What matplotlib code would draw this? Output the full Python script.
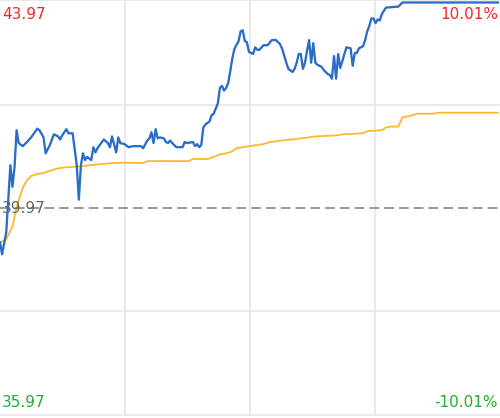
import matplotlib
matplotlib.use("Agg")
import matplotlib.pyplot as plt

plt.rcParams['font.family'] = ['DejaVu Sans']

# intraday price (minute index, price)
price_min = [0, 1, 3, 5, 6, 7, 8, 9, 11, 13, 15, 18, 19, 21, 22, 24, 26, 28, 29, 30,
             32, 33, 35, 37, 38, 39, 40, 41, 42, 44, 45, 46, 47, 50, 52, 53, 54, 56, 57, 58,
             60, 62, 64, 68, 69, 71, 72, 73, 74, 75, 76, 77, 79, 80, 81, 82, 83, 85, 88, 89,
             90, 93, 94, 95, 96, 97, 98, 99, 101, 102, 103, 105, 106, 107, 108, 109, 110, 111, 112, 113,
             115, 116, 117, 118, 119, 120, 121, 122, 123, 124, 125, 127, 129, 131, 133, 135, 136, 138, 139, 141,
             142, 143, 144, 145, 146, 147, 148, 149, 150, 151, 152, 153, 155, 156, 158, 159, 160, 161, 162, 163,
             164, 165, 166, 167, 169, 170, 171, 172, 173, 175, 176, 177, 178, 179, 180, 181, 182, 183, 184, 186,
             192, 194, 240]
price = [39.31, 39.08, 39.50, 40.81, 40.39, 40.77, 41.49, 41.24, 41.18, 41.26, 41.35, 41.52, 41.49, 41.35, 41.04, 41.20, 41.41, 41.37, 41.31, 41.39,
         41.51, 41.43, 41.43, 40.81, 40.14, 40.81, 41.04, 40.91, 40.97, 40.91, 41.16, 41.06, 41.14, 41.31, 41.24, 41.16, 41.37, 41.06, 41.35, 41.24,
         41.22, 41.16, 41.18, 41.18, 41.14, 41.29, 41.33, 41.45, 41.24, 41.51, 41.33, 41.35, 41.33, 41.26, 41.24, 41.29, 41.24, 41.16, 41.16, 41.26,
         41.24, 41.26, 41.18, 41.22, 41.16, 41.20, 41.54, 41.60, 41.66, 41.78, 41.81, 42.01, 42.31, 42.35, 42.26, 42.31, 42.41, 42.64, 42.89, 43.07,
         43.22, 43.41, 43.43, 43.22, 43.20, 43.01, 42.99, 42.97, 43.10, 43.05, 43.05, 43.14, 43.14, 43.24, 43.24, 43.16, 43.07, 42.80, 42.68, 42.62,
         42.68, 42.80, 42.97, 42.97, 42.68, 42.80, 43.03, 43.24, 42.80, 43.18, 42.80, 42.76, 42.72, 42.66, 42.58, 42.56, 42.49, 42.93, 42.49, 42.97,
         42.70, 42.83, 42.97, 43.10, 43.08, 42.74, 42.99, 42.99, 43.08, 43.12, 43.24, 43.41, 43.51, 43.66, 43.66, 43.57, 43.64, 43.62, 43.74, 43.87,
         43.89, 43.97, 43.97]

# average price line
avg_min = [0, 3, 6, 8, 11, 13, 15, 18, 21, 24, 28, 32, 39, 43, 48, 54, 60, 69, 71, 91,
           93, 100, 103, 106, 109, 112, 114, 117, 120, 127, 130, 136, 145, 152, 163, 165, 175, 177, 184, 186,
           188, 192, 194, 199, 201, 209, 211, 240]
avg = [39.31, 39.37, 39.62, 40.00, 40.37, 40.52, 40.60, 40.64, 40.66, 40.70, 40.75, 40.77, 40.79, 40.81, 40.83, 40.85, 40.86, 40.85, 40.89, 40.89,
       40.93, 40.93, 40.97, 41.02, 41.04, 41.08, 41.14, 41.16, 41.18, 41.22, 41.26, 41.29, 41.33, 41.37, 41.39, 41.41, 41.43, 41.47, 41.49, 41.54,
       41.56, 41.56, 41.74, 41.78, 41.81, 41.81, 41.83, 41.83]

prev_close = 39.97
high_lim = 43.97
low_lim = 35.97
labels_left = ['43.97', '39.97', '35.97']
labels_right = ['10.01%', '-10.01%']

fig = plt.figure(figsize=(5, 4.18), dpi=100)
ax = fig.add_axes([0, 0.006, 1, 0.993])
ax.set_xlim(0, 241)
ax.set_ylim(low_lim - 0.02, high_lim + 0.04)

grid_c = '#e6e6ee'
for q in (1, 2, 3):
    ax.axvline(241 * q / 4, color=grid_c, lw=1.3, zorder=0)
for yv in (41.97, 37.97):
    ax.axhline(yv, color=grid_c, lw=1.3, zorder=0)
ax.axhline(prev_close, color='#999999', lw=1.4, dashes=(5, 2.6), zorder=1)

ax.plot(avg_min, avg, color='#ffb52a', lw=1.25, zorder=2)
ax.plot(price_min, price, color='#2a6cc6', lw=1.65, zorder=3)

for s in ('left', 'right'):
    ax.spines[s].set_visible(False)
for s in ('top', 'bottom'):
    ax.spines[s].set_color(grid_c)
    ax.spines[s].set_linewidth(1.3)
ax.set_xticks([])
ax.set_yticks([])

red = '#f5262a'
green = '#1fae2e'
fs = 11
ax.text(0.004, 0.985, labels_left[0], transform=ax.transAxes, color=red, fontsize=fs, ha='left', va='top')
ax.text(0.996, 0.985, labels_right[0], transform=ax.transAxes, color=red, fontsize=fs, ha='right', va='top')
ax.text(0.004, prev_close, labels_left[1], transform=ax.get_yaxis_transform(), color='#666666', fontsize=fs, ha='left', va='center', zorder=4)
ax.text(0.004, 0.014, labels_left[2], transform=ax.transAxes, color=green, fontsize=fs, ha='left', va='bottom')
ax.text(0.996, 0.014, labels_right[1], transform=ax.transAxes, color=green, fontsize=fs, ha='right', va='bottom')

fig.savefig('out.png', dpi=100)
